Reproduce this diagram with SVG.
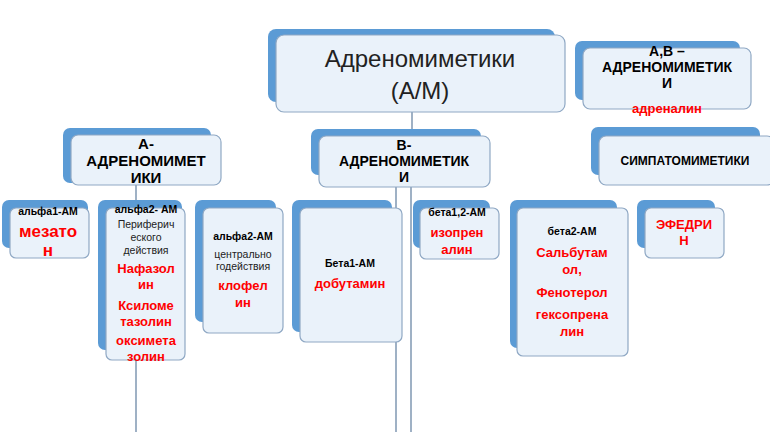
<svg xmlns="http://www.w3.org/2000/svg" width="770" height="432" viewBox="0 0 770 432">
<style>
.b{fill:#5b9bd5}
.f{fill:#eaf2fa;stroke:#8fa8c4;stroke-width:1.2}
.c{stroke:#7f97b2;stroke-width:1.5;fill:none}
text{font-family:"Liberation Sans",Arial,sans-serif;text-anchor:middle;font-weight:bold}
.k{fill:#000}
.r{fill:#ff0000}
.n{font-weight:normal;fill:#222}
</style>
<rect width="770" height="432" fill="#fff"/>
<g id="connectors">
<line class="c" x1="412" y1="112" x2="412" y2="136"/>
<line class="c" x1="136" y1="185" x2="136" y2="208"/>
<line class="c" x1="136" y1="360" x2="136" y2="432"/>
<line class="c" x1="396" y1="187" x2="396" y2="432"/>
<line class="c" x1="411" y1="187" x2="411" y2="432"/>
</g>
<g id="root">
<rect class="b" x="268" y="29" width="287" height="73" rx="8"/>
<rect class="f" x="276" y="35" width="289" height="77" rx="8"/>
<text class="n" x="420" y="67" font-size="24">Адреномиметики</text>
<text class="n" x="420" y="99" font-size="24">(А/М)</text>
</g>
<g id="a">
<rect class="b" x="63" y="128" width="148" height="55" rx="7"/>
<rect class="f" x="71" y="135" width="150" height="50" rx="7"/>
<text class="k" x="146" y="149" font-size="15">А-</text>
<text class="k" x="146" y="166" font-size="15">АДРЕНОМИМЕТ</text>
<text class="k" x="146" y="183" font-size="15">ИКИ</text>
</g>
<g id="b">
<rect class="b" x="311" y="129" width="170" height="46" rx="7"/>
<rect class="f" x="319" y="136" width="171" height="51" rx="7"/>
<text class="k" x="404" y="150" font-size="14">В-</text>
<text class="k" x="404" y="166" font-size="14">АДРЕНОМИМЕТИК</text>
<text class="k" x="404" y="182" font-size="14">И</text>
</g>
<g id="ab">
<rect class="b" x="575" y="41" width="165" height="59" rx="7"/>
<rect class="f" x="583" y="48" width="168" height="61" rx="7"/>
<text class="k" x="667" y="56" font-size="14">А,В –</text>
<text class="k" x="667" y="72" font-size="14">АДРЕНОМИМЕТИК</text>
<text class="k" x="667" y="88" font-size="14">И</text>
<text class="r" x="667" y="113" font-size="13">адреналин</text>
</g>
<g id="symp">
<rect class="b" x="591" y="127" width="169" height="48" rx="7"/>
<rect class="f" x="599" y="136" width="175" height="49" rx="7"/>
<text class="k" x="685" y="165" font-size="12">СИМПАТОМИМЕТИКИ</text>
</g>
<g id="alpha1">
<rect class="b" x="2" y="200" width="86" height="48" rx="7"/>
<rect class="f" x="10" y="208" width="79" height="50" rx="6"/>
<text class="k" x="48" y="215" font-size="10.5">альфа1-АМ</text>
<text class="r" x="48" y="237" font-size="17">мезато</text>
<text class="r" x="48" y="256" font-size="17">н</text>
</g>
<g id="alpha2p">
<rect class="b" x="98" y="200" width="84" height="150" rx="7"/>
<rect class="f" x="106" y="208" width="79" height="152" rx="6"/>
<text class="k" x="146" y="213" font-size="10.5">альфа2- АМ</text>
<text class="n" x="146" y="228" font-size="10.5">Периферич</text>
<text class="n" x="146" y="241" font-size="10.5">еского</text>
<text class="n" x="146" y="254" font-size="10.5">действия</text>
<text class="r" x="146" y="273" font-size="13">Нафазол</text>
<text class="r" x="146" y="289" font-size="13">ин</text>
<text class="r" x="146" y="310" font-size="13">Ксиломе</text>
<text class="r" x="146" y="326" font-size="13">тазолин</text>
<text class="r" x="146" y="345" font-size="13">оксимета</text>
<text class="r" x="146" y="361" font-size="13">золин</text>
</g>
<g id="alpha2c">
<rect class="b" x="195" y="200" width="81" height="122" rx="7"/>
<rect class="f" x="203" y="208" width="80" height="125" rx="6"/>
<text class="k" x="243" y="240" font-size="10.5">альфа2-АМ</text>
<text class="n" x="243" y="258" font-size="10.5">центрально</text>
<text class="n" x="243" y="270" font-size="10.5">годействия</text>
<text class="r" x="243" y="290" font-size="13">клофел</text>
<text class="r" x="243" y="307" font-size="13">ин</text>
</g>
<g id="beta1">
<rect class="b" x="292" y="200" width="100" height="132" rx="7"/>
<rect class="f" x="300" y="208" width="102" height="134" rx="6"/>
<text class="k" x="350" y="267" font-size="10.5">Бета1-АМ</text>
<text class="r" x="350" y="288" font-size="13">добутамин</text>
</g>
<g id="beta12">
<rect class="b" x="413" y="200" width="77" height="48" rx="7"/>
<rect class="f" x="420" y="208" width="79" height="51" rx="6"/>
<text class="k" x="457" y="216" font-size="10.5">бета1,2-АМ</text>
<text class="r" x="457" y="237" font-size="13">изопрен</text>
<text class="r" x="457" y="254" font-size="13">алин</text>
</g>
<g id="beta2">
<rect class="b" x="510" y="200" width="107" height="148" rx="7"/>
<rect class="f" x="517" y="208" width="111" height="148" rx="6"/>
<text class="k" x="572" y="235" font-size="10.5">бета2-АМ</text>
<text class="r" x="572" y="257" font-size="13">Сальбутам</text>
<text class="r" x="572" y="274" font-size="13">ол,</text>
<text class="r" x="572" y="297" font-size="13">Фенотерол</text>
<text class="r" x="572" y="319" font-size="13">гексопрена</text>
<text class="r" x="572" y="336" font-size="13">лин</text>
</g>
<g id="ephedrine">
<rect class="b" x="637" y="200" width="78" height="48" rx="7"/>
<rect class="f" x="645" y="208" width="79" height="50" rx="6"/>
<text class="r" x="684" y="229" font-size="13">ЭФЕДРИ</text>
<text class="r" x="684" y="245" font-size="13">Н</text>
</g>
</svg>
